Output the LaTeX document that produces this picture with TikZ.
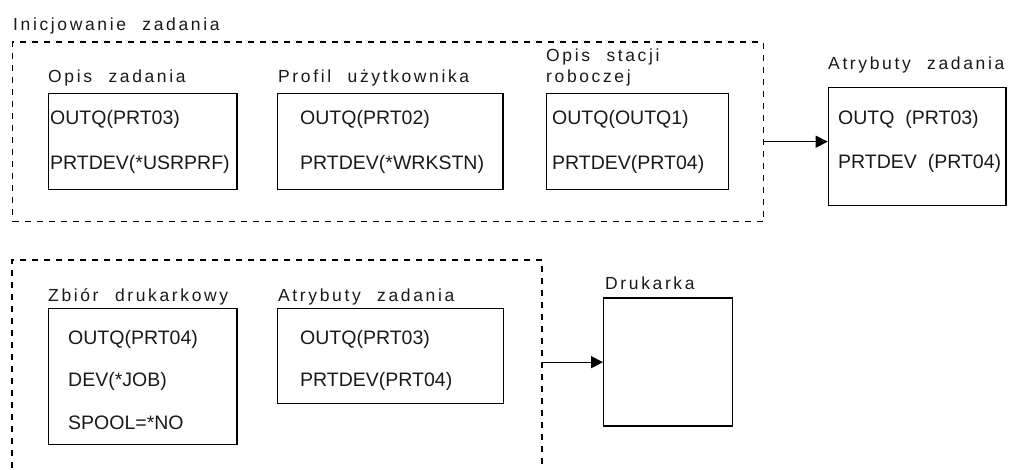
\documentclass[tikz,border=0pt]{standalone}
\usepackage{fontspec}
\setmainfont{Liberation Sans}
\newfontfamily\lblfont[LetterSpace=15,WordSpace=2.2]{Liberation Sans}
\usetikzlibrary{arrows.meta}
\tikzset{
  frame/.style={draw, dash pattern=on 6pt off 6pt, line width=1.1pt},
  box/.style={draw, line width=1.4pt, inner sep=0pt, anchor=north west},
  lbl/.style={anchor=base west, inner sep=0pt, font=\lblfont\fontsize{17.5}{21}\selectfont, text=black!90},
  val/.style={anchor=base west, inner sep=0pt, font=\fontsize{19.5}{23}\selectfont, text=black!90},
  arr/.style={-{Triangle[length=12pt,width=12pt]}, line width=1.1pt}
}
\begin{document}
\begin{tikzpicture}[x=1pt,y=-1pt]
\useasboundingbox (0,0) rectangle (1013,470);

% --- job initiation group ---
\node[lbl] (initlbl) at (13,31) {Inicjowanie zadania};
\node[frame, anchor=north west, minimum width=751pt, minimum height=179.5pt, inner sep=0pt] (init) at (12,41.5) {};

\node[lbl] (jdlbl) at (48,83) {Opis zadania};
\node[box, minimum width=188.5pt, minimum height=96pt] (jd) at (47.7,93) {};
\node[val] (jd1) at (50,125) {OUTQ(PRT03)};
\node[val] (jd2) at (50,170) {PRTDEV(*USRPRF)};

\node[lbl] (uplbl) at (278,83) {Profil użytkownika};
\node[box, minimum width=225.5pt, minimum height=96pt] (up) at (276.7,93) {};
\node[val] (up1) at (300,125) {OUTQ(PRT02)};
\node[val] (up2) at (300,170) {PRTDEV(*WRKSTN)};

\node[lbl] (wslbl1) at (546,61.5) {Opis stacji};
\node[lbl] (wslbl2) at (546,83) {roboczej};
\node[box, minimum width=182pt, minimum height=96pt] (ws) at (545.7,93) {};
\node[val] (ws1) at (552,125) {OUTQ(OUTQ1)};
\node[val] (ws2) at (552,170) {PRTDEV(PRT04)};

% --- resulting job attributes ---
\node[lbl] (attrlbl) at (828,70) {Atrybuty zadania};
\node[box, minimum width=177.5pt, minimum height=118pt] (attr) at (827.7,87) {};
\node[val] (attr1) at (838,125) {OUTQ\ \ (PRT03)};
\node[val] (attr2) at (838,169) {PRTDEV\ \ (PRT04)};

\coordinate (a1) at (0,141.7);
\draw[arr] (init.east |- a1) -- (attr.west |- a1);

% --- spooled file group (open at the bottom) ---
\coordinate (fbl) at (12,468);
\coordinate (ftl) at (12,260);
\coordinate (ftr) at (542,260);
\coordinate (fbr) at (542,468);
\draw[frame] (fbl) -- (ftl) -- (ftr) -- (fbr);

\node[lbl] (pflbl) at (48,302) {Zbiór drukarkowy};
\node[box, minimum width=188.5pt, minimum height=136pt] (pf) at (47.7,308) {};
\node[val] (pf1) at (68,345) {OUTQ(PRT04)};
\node[val] (pf2) at (68,386.5) {DEV(*JOB)};
\node[val] (pf3) at (68,430) {SPOOL=*NO};

\node[lbl] (ja2lbl) at (278,302) {Atrybuty zadania};
\node[box, minimum width=226pt, minimum height=95pt] (ja2) at (277,308) {};
\node[val] (ja21) at (300,345) {OUTQ(PRT03)};
\node[val] (ja22) at (300,386.5) {PRTDEV(PRT04)};

% --- printer ---
\node[lbl] (prlbl) at (605,290) {Drukarka};
\node[box, minimum width=129pt, minimum height=128pt] (pr) at (603,297.5) {};

\draw[arr] (ftr |- pr.west) -- (pr.west);
\end{tikzpicture}
\end{document}
